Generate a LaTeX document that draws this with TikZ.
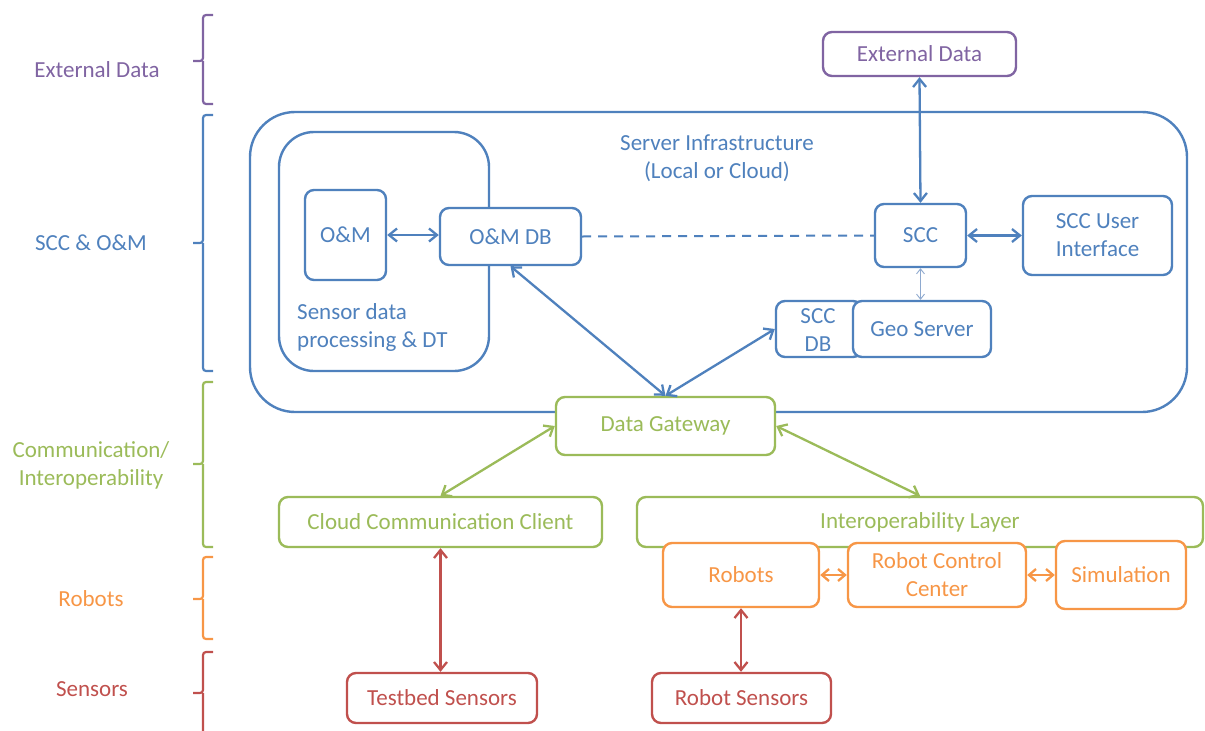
\documentclass[tikz,border=0pt]{standalone}
\usepackage{fontspec}
\setmainfont{Carlito}
\usetikzlibrary{arrows.meta}
\definecolor{cpur}{HTML}{8064A2}
\definecolor{cblu}{HTML}{4F81BD}
\definecolor{cgrn}{HTML}{9BBB59}
\definecolor{cora}{HTML}{F79646}
\definecolor{cred}{HTML}{C0504D}
\definecolor{cthin}{HTML}{8EA9CF}
\tikzset{
  box/.style={draw, line width=2.4pt, rounded corners=9pt, fill=white, align=center, inner sep=0pt},
  pur/.style={box, draw=cpur, text=cpur},
  blu/.style={box, draw=cblu, text=cblu},
  grn/.style={box, draw=cgrn, text=cgrn},
  ora/.style={box, draw=cora, text=cora},
  red/.style={box, draw=cred, text=cred},
  conn/.style={line width=2.3pt, {Straight Barb[length=8pt,width=13pt]}-{Straight Barb[length=8pt,width=13pt]}},
  brace/.style={line width=2.2pt, rounded corners=3pt},
  lbl/.style={align=center, inner sep=0pt}
}
\begin{document}
\begin{tikzpicture}[x=1pt,y=-1pt, font=\fontsize{23}{28}\selectfont]
\useasboundingbox (0,0) rectangle (1205,731);
\begin{scope}
\clip (0,0) rectangle (1205,731);
% braces
\draw[brace, cpur] (213,15) -- (203,15) -- (203,61) -- (193,61) (203,61) -- (203,104) -- (213,104);
\draw[brace, cblu] (213,115) -- (203,115) -- (203,243) -- (193,243) (203,243) -- (203,371) -- (213,371);
\draw[brace, cgrn] (213,382) -- (203,382) -- (203,464) -- (193,464) (203,464) -- (203,547) -- (213,547);
\draw[brace, cora] (213,557) -- (203,557) -- (203,599) -- (193,599) (203,599) -- (203,639) -- (213,639);
\draw[brace, cred] (213,652) -- (203,652) -- (203,693) -- (193,693) (203,693) -- (203,760);
\end{scope}
\node[lbl, text=cpur] (lext) at (97,70) {External Data};
\node[lbl, text=cblu] (lscc) at (91,243) {SCC \& O\&M};
\node[lbl, text=cgrn] (lcom) at (91,465) {Communication/\\Interoperability};
\node[lbl, text=cora] (lrob) at (91,599) {Robots};
\node[lbl, text=cred] (lsen) at (92,689) {Sensors};

% server infrastructure
\node[blu, rounded corners=45pt, minimum width=937pt, minimum height=300pt] (server) at (718.5,262) {};
\node[lbl, text=cblu] (servertxt) at (717,158) {Server Infrastructure\\(Local or Cloud)};
\node[blu, rounded corners=35pt, minimum width=210pt, minimum height=239pt] (sdp) at (384,251.5) {};
\node[lbl, text=cblu, anchor=west, align=left] (sdptxt) at (297,327) {Sensor data\\processing \& DT};

\node[pur, minimum width=193pt, minimum height=44pt] (ext) at (919.5,54) {External Data};
\node[blu, minimum width=81pt, minimum height=90pt] (om) at (345.5,235) {O\&M};
\node[blu, minimum width=141pt, minimum height=57pt] (omdb) at (510.5,236.5) {O\&M DB};
\node[blu, minimum width=91pt, minimum height=63pt] (scc) at (920.5,235.5) {SCC};
\node[blu, minimum width=149pt, minimum height=79pt] (sccui) at (1097.5,235.5) {SCC User\\Interface};
\node[blu, minimum width=86pt, minimum height=56pt] (sccdb) at (819,329) {};
\node[lbl, text=cblu] (sccdbtxt) at (818,330) {SCC\\DB};
\node[blu, minimum width=138pt, minimum height=56pt] (geo) at (922,329) {Geo Server};

\node[grn, minimum width=219pt, minimum height=58pt] (gw) at (665.5,426) {Data Gateway};
\node[grn, minimum width=323pt, minimum height=50pt] (ccc) at (440.5,522) {Cloud Communication Client};
\node[grn, minimum width=566pt, minimum height=50pt] (iop) at (920,522) {Interoperability Layer};
\node[ora, minimum width=156pt, minimum height=64pt] (robots) at (741,575) {Robots};
\node[ora, minimum width=178pt, minimum height=64pt] (rcc) at (937,575) {Robot Control\\Center};
\node[ora, minimum width=130pt, minimum height=68pt] (sim) at (1121,575) {Simulation};
\node[red, minimum width=190pt, minimum height=50pt] (tbs) at (442,698) {Testbed Sensors};
\node[red, minimum width=179pt, minimum height=50pt] (rs) at (741.5,698) {Robot Sensors};

% connectors
\draw[conn, cblu] (ext.south) -- (scc.north);
\draw[conn, cblu] (om.east) -- (om.east -| omdb.west);
\draw[line width=2pt, cblu, dash pattern=on 9pt off 7pt] (omdb.east) -- (scc.west);
\draw[conn, cblu] (scc.east) -- (sccui.west);
\draw[cthin, line width=0.9pt, {Straight Barb[length=5pt,width=8pt]}-{Straight Barb[length=5pt,width=8pt]}] (scc.south) -- (scc.south |- geo.north);
\draw[conn, cblu] (omdb.south) -- (gw.north);
\draw[conn, cblu] (sccdb.west) -- (gw.north);
\draw[conn, cgrn] (gw.west) -- (ccc.north);
\draw[conn, cgrn] (gw.east) -- (iop.north);
\draw[conn, cred] (ccc.south) -- (ccc.south |- tbs.north);
\draw[conn, cred] (robots.south) -- (robots.south |- rs.north);
\draw[conn, cora, {Straight Barb[length=7pt,width=12pt]}-{Straight Barb[length=7pt,width=12pt]}] (robots.east) -- (rcc.west);
\draw[conn, cora, {Straight Barb[length=7pt,width=12pt]}-{Straight Barb[length=7pt,width=12pt]}] (rcc.east) -- (sim.west);
\end{tikzpicture}
\end{document}
